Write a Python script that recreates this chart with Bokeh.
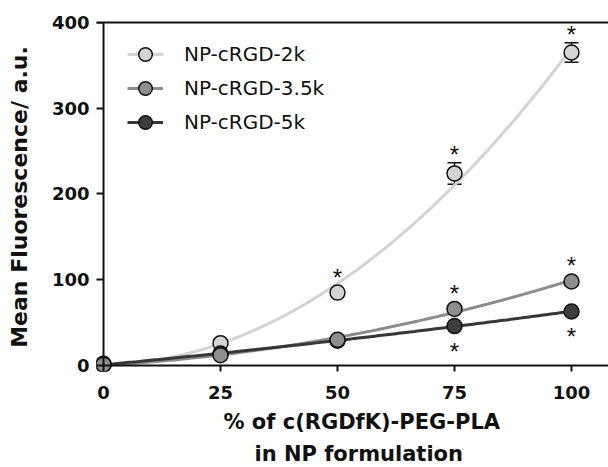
import numpy as np
from bokeh.plotting import figure
from bokeh.models import (ColumnDataSource, Legend, LegendItem, LinearAxis,
                          FixedTicker, Whisker, TeeHead, Range1d, Title)
from bokeh.core.properties import value
from bokeh.embed import file_html
from bokeh.resources import INLINE

# ---- data -------------------------------------------------------------
pct = [0, 25, 50, 75, 100]                      # % of c(RGDfK)-PEG-PLA
series_names = ["NP-cRGD-2k", "NP-cRGD-3.5k", "NP-cRGD-5k"]
mfi_2k = [2, 26, 85, 224, 365]
mfi_35k = [1, 12, 30, 66, 98]
mfi_5k = [1, 14, 29, 46, 63]
sd_2k = [1, 2, 3, 12.5, 11.5]
sd_35k = [0.5, 1, 2, 3, 3]
sd_5k = [0.5, 1, 2, 2, 2]
# significance marks: x positions, drawn above (+1) or below (-1) the point
star_x_2k, star_side_2k = [50, 75, 100], [1, 1, 1]
star_x_35k, star_side_35k = [75, 100], [1, 1]
star_x_5k, star_side_5k = [75, 100], [-1, -1]
x_ticks = [0, 25, 50, 75, 100]
y_ticks = [0, 100, 200, 300, 400]
x_title_lines = ["% of c(RGDfK)-PEG-PLA", "in NP formulation"]
y_title = "Mean Fluorescence/ a.u."

# ---- styling ----------------------------------------------------------
fills = ["#d4d4d4", "#8e8e8e", "#3d3d3d"]
lines = ["#d3d3d3", "#8c8c8c", "#363636"]
INK = "#111111"

W, H = 608, 467
X0, X1 = -1.49, 107.9
Y0, Y1 = -7.0, 400
PX_PER_Y = 349 / (Y1 - Y0)
MARKER_R = 7.5

p = figure(width=W, height=H, x_range=Range1d(X0, X1), y_range=Range1d(Y0, Y1),
           output_backend="svg", toolbar_location=None,
           min_border_left=96, min_border_right=0, min_border_top=22,
           min_border_bottom=96, outline_line_color=None,
           background_fill_color="white", border_fill_color="white")
p.grid.visible = False

# frame-edge axes: tick labels and the y title only
xa, ya = p.xaxis[0], p.yaxis[0]
for ax in (xa, ya):
    ax.axis_line_color = None
    ax.major_tick_line_color = None
    ax.minor_tick_line_color = None
    ax.major_tick_out = 0
    ax.major_tick_in = 0
    ax.major_label_text_font = "DejaVu Sans"
    ax.major_label_text_font_style = "bold"
    ax.major_label_text_font_size = "18px"
    ax.major_label_text_color = INK

xa.ticker = FixedTicker(ticks=x_ticks)
xa.major_label_standoff = 14

ya.ticker = FixedTicker(ticks=y_ticks)
ya.major_label_standoff = 7
ya.axis_label = y_title
ya.axis_label_text_font = "DejaVu Sans"
ya.axis_label_text_font_style = "bold"
ya.axis_label_text_font_size = "22px"
ya.axis_label_text_color = INK
ya.axis_label_standoff = 17


# axis lines and ticks crossing at the origin (no labels of their own)
def origin_axis(ticks, bounds):
    return LinearAxis(ticker=FixedTicker(ticks=ticks), bounds=bounds,
                      fixed_location=0, axis_line_width=2, axis_line_color=INK,
                      major_tick_line_width=2, major_tick_line_color=INK,
                      major_tick_out=0, major_tick_in=-8,
                      minor_tick_line_color=None, major_label_standoff=0,
                      major_label_text_font_size="1px",
                      major_label_text_color=None)


p.add_layout(origin_axis(x_ticks, (0, X1)), "below")
p.add_layout(origin_axis(y_ticks, (0, Y1)), "left")

# closing line along the top of the plot
top_ax = LinearAxis(ticker=FixedTicker(ticks=[]), bounds=(X0, X1),
                    axis_line_width=2, axis_line_color=INK,
                    major_tick_line_color=None, minor_tick_line_color=None,
                    major_label_text_font_size="1px",
                    major_label_text_color=None)
p.add_layout(top_ax, "above")

# two-line x title, each line its own title row under the tick labels
for txt, off, gap in zip(x_title_lines, (127, 158), (12, 1)):
    p.add_layout(Title(text=txt, align="left", offset=off, standoff=gap,
                       text_font="DejaVu Sans", text_font_style="bold",
                       text_font_size="21px", text_color=INK), "below")

# ---- series -----------------------------------------------------------
all_y = [mfi_2k, mfi_35k, mfi_5k]
all_sd = [sd_2k, sd_35k, sd_5k]
all_star = [(star_x_2k, star_side_2k), (star_x_35k, star_side_35k),
            (star_x_5k, star_side_5k)]

xs_fit = np.linspace(0, 100, 201)
line_r = []
for ys, col in zip(all_y, lines):
    coef = np.polyfit(pct, ys, 2)
    line_r.append(p.line(xs_fit, np.polyval(coef, xs_fit), line_color=col,
                         line_width=3))

# error bars sit beneath the markers
for ys, sd in zip(all_y, all_sd):
    src = ColumnDataSource(dict(x=pct, lo=np.array(ys) - np.array(sd),
                                hi=np.array(ys) + np.array(sd)))
    w = Whisker(source=src, base="x", lower="lo", upper="hi",
                dimension="height", line_color=INK, line_width=1.5,
                level="underlay",
                upper_head=TeeHead(size=14, line_color=INK, line_width=1.5),
                lower_head=TeeHead(size=14, line_color=INK, line_width=1.5))
    p.add_layout(w)

marker_r = [None, None, None]
for i in (0, 2, 1):
    marker_r[i] = p.scatter(pct, all_y[i], marker="circle", size=2 * MARKER_R,
                            fill_color=fills[i], line_color=INK, line_width=1.5)

# significance asterisks
sx, sy, sdy = [], [], []
for ys, sd, (stx, side) in zip(all_y, all_sd, all_star):
    for xv, s in zip(stx, side):
        k = pct.index(xv)
        err_px = sd[k] * PX_PER_Y
        gap = 13 + max(0.0, MARKER_R - err_px)
        sx.append(xv)
        sy.append(ys[k] + s * sd[k])
        sdy.append(-s * gap + 5)
p.text(x="x", y="y", text=value("*"), y_offset="dy",
       source=ColumnDataSource(dict(x=sx, y=sy, dy=sdy)),
       text_font=value("Liberation Sans"), text_font_size="24px",
       text_align="center", text_baseline="middle", text_color=INK)

# ---- legend -----------------------------------------------------------
items = [LegendItem(label=n, renderers=[l, m])
         for n, l, m in zip(series_names, line_r, marker_r)]
legend = Legend(items=items, location=(31, 232), margin=0, padding=0,
                spacing=0, glyph_width=36, glyph_height=34, label_height=34,
                label_standoff=21, border_line_color=None,
                background_fill_alpha=0,
                label_text_font="DejaVu Sans", label_text_font_size="20px",
                label_text_color=INK)
p.add_layout(legend)

open("out.html", "w").write(file_html(p, INLINE))
